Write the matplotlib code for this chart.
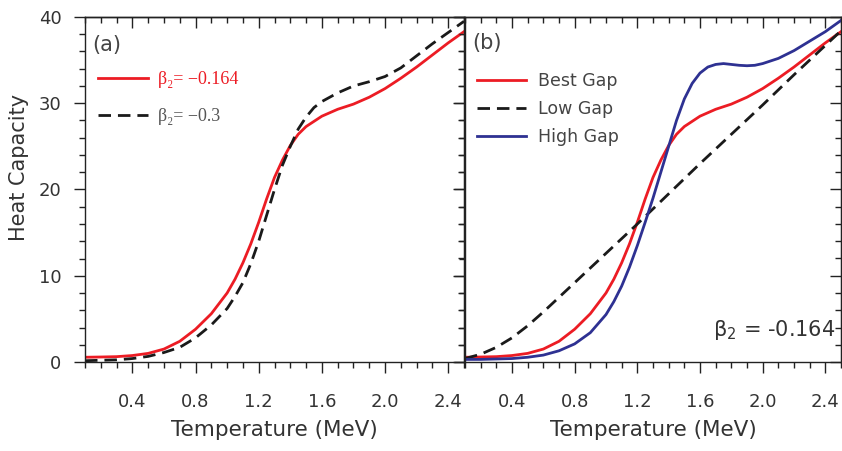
import matplotlib
matplotlib.use("Agg")
import matplotlib.pyplot as plt
from matplotlib.ticker import MultipleLocator, FixedLocator

# ---- data -------------------------------------------------------------
temp_best = [0.1, 0.2, 0.3, 0.4, 0.5, 0.6, 0.7, 0.8, 0.9, 1.0, 1.05, 1.1, 1.15,
             1.2, 1.25, 1.3, 1.35, 1.4, 1.45, 1.5, 1.55, 1.6, 1.7, 1.8, 1.9,
             2.0, 2.1, 2.2, 2.3, 2.4, 2.5]
cap_best = [0.55, 0.58, 0.62, 0.75, 1.0, 1.5, 2.4, 3.8, 5.6, 8.0, 9.6, 11.5, 13.7,
            16.2, 18.9, 21.4, 23.4, 25.1, 26.4, 27.3, 27.9, 28.5, 29.3, 29.9, 30.7,
            31.7, 32.9, 34.2, 35.6, 37.0, 38.3]

temp_b03 = [0.1, 0.2, 0.3, 0.4, 0.5, 0.6, 0.7, 0.8, 0.9, 1.0, 1.05, 1.1, 1.15,
            1.2, 1.25, 1.3, 1.35, 1.4, 1.45, 1.5, 1.55, 1.6, 1.7, 1.8, 1.9,
            2.0, 2.1, 2.2, 2.3, 2.4, 2.5]
cap_b03 = [0.15, 0.2, 0.25, 0.4, 0.65, 1.1, 1.7, 2.8, 4.3, 6.2, 7.6, 9.2, 11.4,
           14.0, 17.0, 20.0, 22.8, 25.0, 27.0, 28.4, 29.5, 30.2, 31.2, 32.0, 32.5,
           33.1, 34.1, 35.5, 36.9, 38.2, 39.5]

temp_low = [0.1, 0.2, 0.3, 0.4, 0.5, 0.6, 0.7, 0.8, 0.9, 1.0, 1.2, 1.4, 1.6,
            1.8, 2.0, 2.2, 2.4, 2.5]
cap_low = [0.4, 0.9, 1.7, 2.8, 4.2, 5.8, 7.5, 9.2, 10.9, 12.6, 16.0, 19.5, 23.0,
           26.4, 29.8, 33.3, 36.7, 38.4]

temp_high = [0.1, 0.2, 0.3, 0.4, 0.5, 0.6, 0.7, 0.8, 0.9, 1.0, 1.05, 1.1, 1.15,
             1.2, 1.25, 1.3, 1.35, 1.4, 1.45, 1.5, 1.55, 1.6, 1.65, 1.7, 1.75,
             1.8, 1.85, 1.9, 1.95, 2.0, 2.1, 2.2, 2.3, 2.4, 2.5]
cap_high = [0.3, 0.3, 0.35, 0.4, 0.55, 0.8, 1.3, 2.1, 3.4, 5.5, 7.0, 8.8, 11.0,
            13.5, 16.2, 19.0, 22.0, 25.0, 28.0, 30.5, 32.3, 33.5, 34.2, 34.5, 34.6,
            34.5, 34.4, 34.35, 34.4, 34.6, 35.2, 36.1, 37.2, 38.3, 39.6]

x_ticks = [0.4, 0.8, 1.2, 1.6, 2.0, 2.4]
x_tick_labels = ["0.4", "0.8", "1.2", "1.6", "2.0", "2.4"]
y_ticks = [0, 10, 20, 30, 40]

RED = "#ec1c24"
BLUE = "#2e3192"
BLACK = "#1a1a1a"
TXT = "#333333"

plt.rcParams["font.family"] = ["DejaVu Sans"]

fig = plt.figure(figsize=(8.42, 4.51), dpi=100)
H = 451.0
W = 842.0
bottom = 1 - 362 / H
height = 345 / H
ax_a = fig.add_axes([85 / W, bottom, 379 / W, height])
ax_b = fig.add_axes([465 / W, bottom, 376 / W, height])

dash = (0, (4.5, 2.5))

ax_a.plot(temp_best, cap_best, color=RED, lw=2.0, label="β₂= −0.164")
ax_a.plot(temp_b03, cap_b03, color=BLACK, lw=2.0, ls=dash, label="β₂= −0.3")

ax_b.plot(temp_best, cap_best, color=RED, lw=2.0, label="Best Gap")
ax_b.plot(temp_low, cap_low, color=BLACK, lw=2.0, ls=dash, label="Low Gap")
ax_b.plot(temp_high, cap_high, color=BLUE, lw=2.0, label="High Gap")


def style_axes(ax, show_ylabels):
    ax.set_xlim(0.1, 2.5)
    ax.set_ylim(0, 40)
    ax.xaxis.set_major_locator(FixedLocator(x_ticks))
    ax.set_xticklabels(x_tick_labels)
    ax.xaxis.set_minor_locator(MultipleLocator(0.1))
    ax.yaxis.set_major_locator(FixedLocator(y_ticks))
    ax.yaxis.set_minor_locator(MultipleLocator(2))
    ax.tick_params(which="major", direction="out", length=8, width=1.0,
                   color="#222222", labelsize=13, labelcolor=TXT)
    ax.tick_params(which="minor", direction="out", length=4, width=1.0,
                   color="#222222")
    ax.tick_params(axis="x", which="major", pad=14)
    ax.tick_params(axis="y", which="major", pad=9)
    if not show_ylabels:
        ax.tick_params(axis="y", labelleft=False)
    for s in ax.spines.values():
        s.set_linewidth(1.0)
        s.set_color("#222222")
    # inward ticks on the top and right edges
    top = ax.secondary_xaxis("top")
    top.xaxis.set_major_locator(FixedLocator(x_ticks))
    top.xaxis.set_minor_locator(MultipleLocator(0.1))
    top.tick_params(which="major", direction="in", length=8, width=1.0,
                    color="#222222", labeltop=False)
    top.tick_params(which="minor", direction="in", length=4, width=1.0,
                    color="#222222")
    top.spines["top"].set_linewidth(1.0)
    right = ax.secondary_yaxis("right")
    right.yaxis.set_major_locator(FixedLocator(y_ticks))
    right.yaxis.set_minor_locator(MultipleLocator(2))
    right.tick_params(which="major", direction="in", length=8, width=1.0,
                      color="#222222", labelright=False)
    right.tick_params(which="minor", direction="in", length=4, width=1.0,
                      color="#222222")
    ax.set_xlabel("Temperature (MeV)", fontsize=15.5, color=TXT, labelpad=7)


style_axes(ax_a, True)
style_axes(ax_b, False)
ax_a.set_ylabel("Heat Capacity", fontsize=15, color=TXT)
ax_a.yaxis.set_label_coords(-0.148, 0.565)

ax_a.text(0.02, 0.92, "(a)", transform=ax_a.transAxes, fontsize=15,
          color="#444444", ha="left", va="center")
ax_b.text(0.02, 0.925, "(b)", transform=ax_b.transAxes, fontsize=15,
          color="#444444", ha="left", va="center")

leg_a = ax_a.legend(loc="upper left", bbox_to_anchor=(0.0, 0.88), frameon=False,
                    handlelength=2.8, handletextpad=0.55, labelspacing=1.1,
                    borderaxespad=0.3,
                    prop={"family": ["Liberation Serif", "DejaVu Serif"], "size": 13},
                    labelcolor=[RED, "#555555"])

leg_b = ax_b.legend(loc="upper left", bbox_to_anchor=(0.0, 0.875), frameon=False,
                    handlelength=2.8, handletextpad=0.7, labelspacing=0.56,
                    borderaxespad=0.3, prop={"size": 12.5}, labelcolor="#444444")

ax_b.text(0.985, 0.075, "β$_2$ = -0.164", transform=ax_b.transAxes,
          fontsize=15, color=TXT, ha="right", va="baseline")

fig.savefig("out.png", dpi=100)
